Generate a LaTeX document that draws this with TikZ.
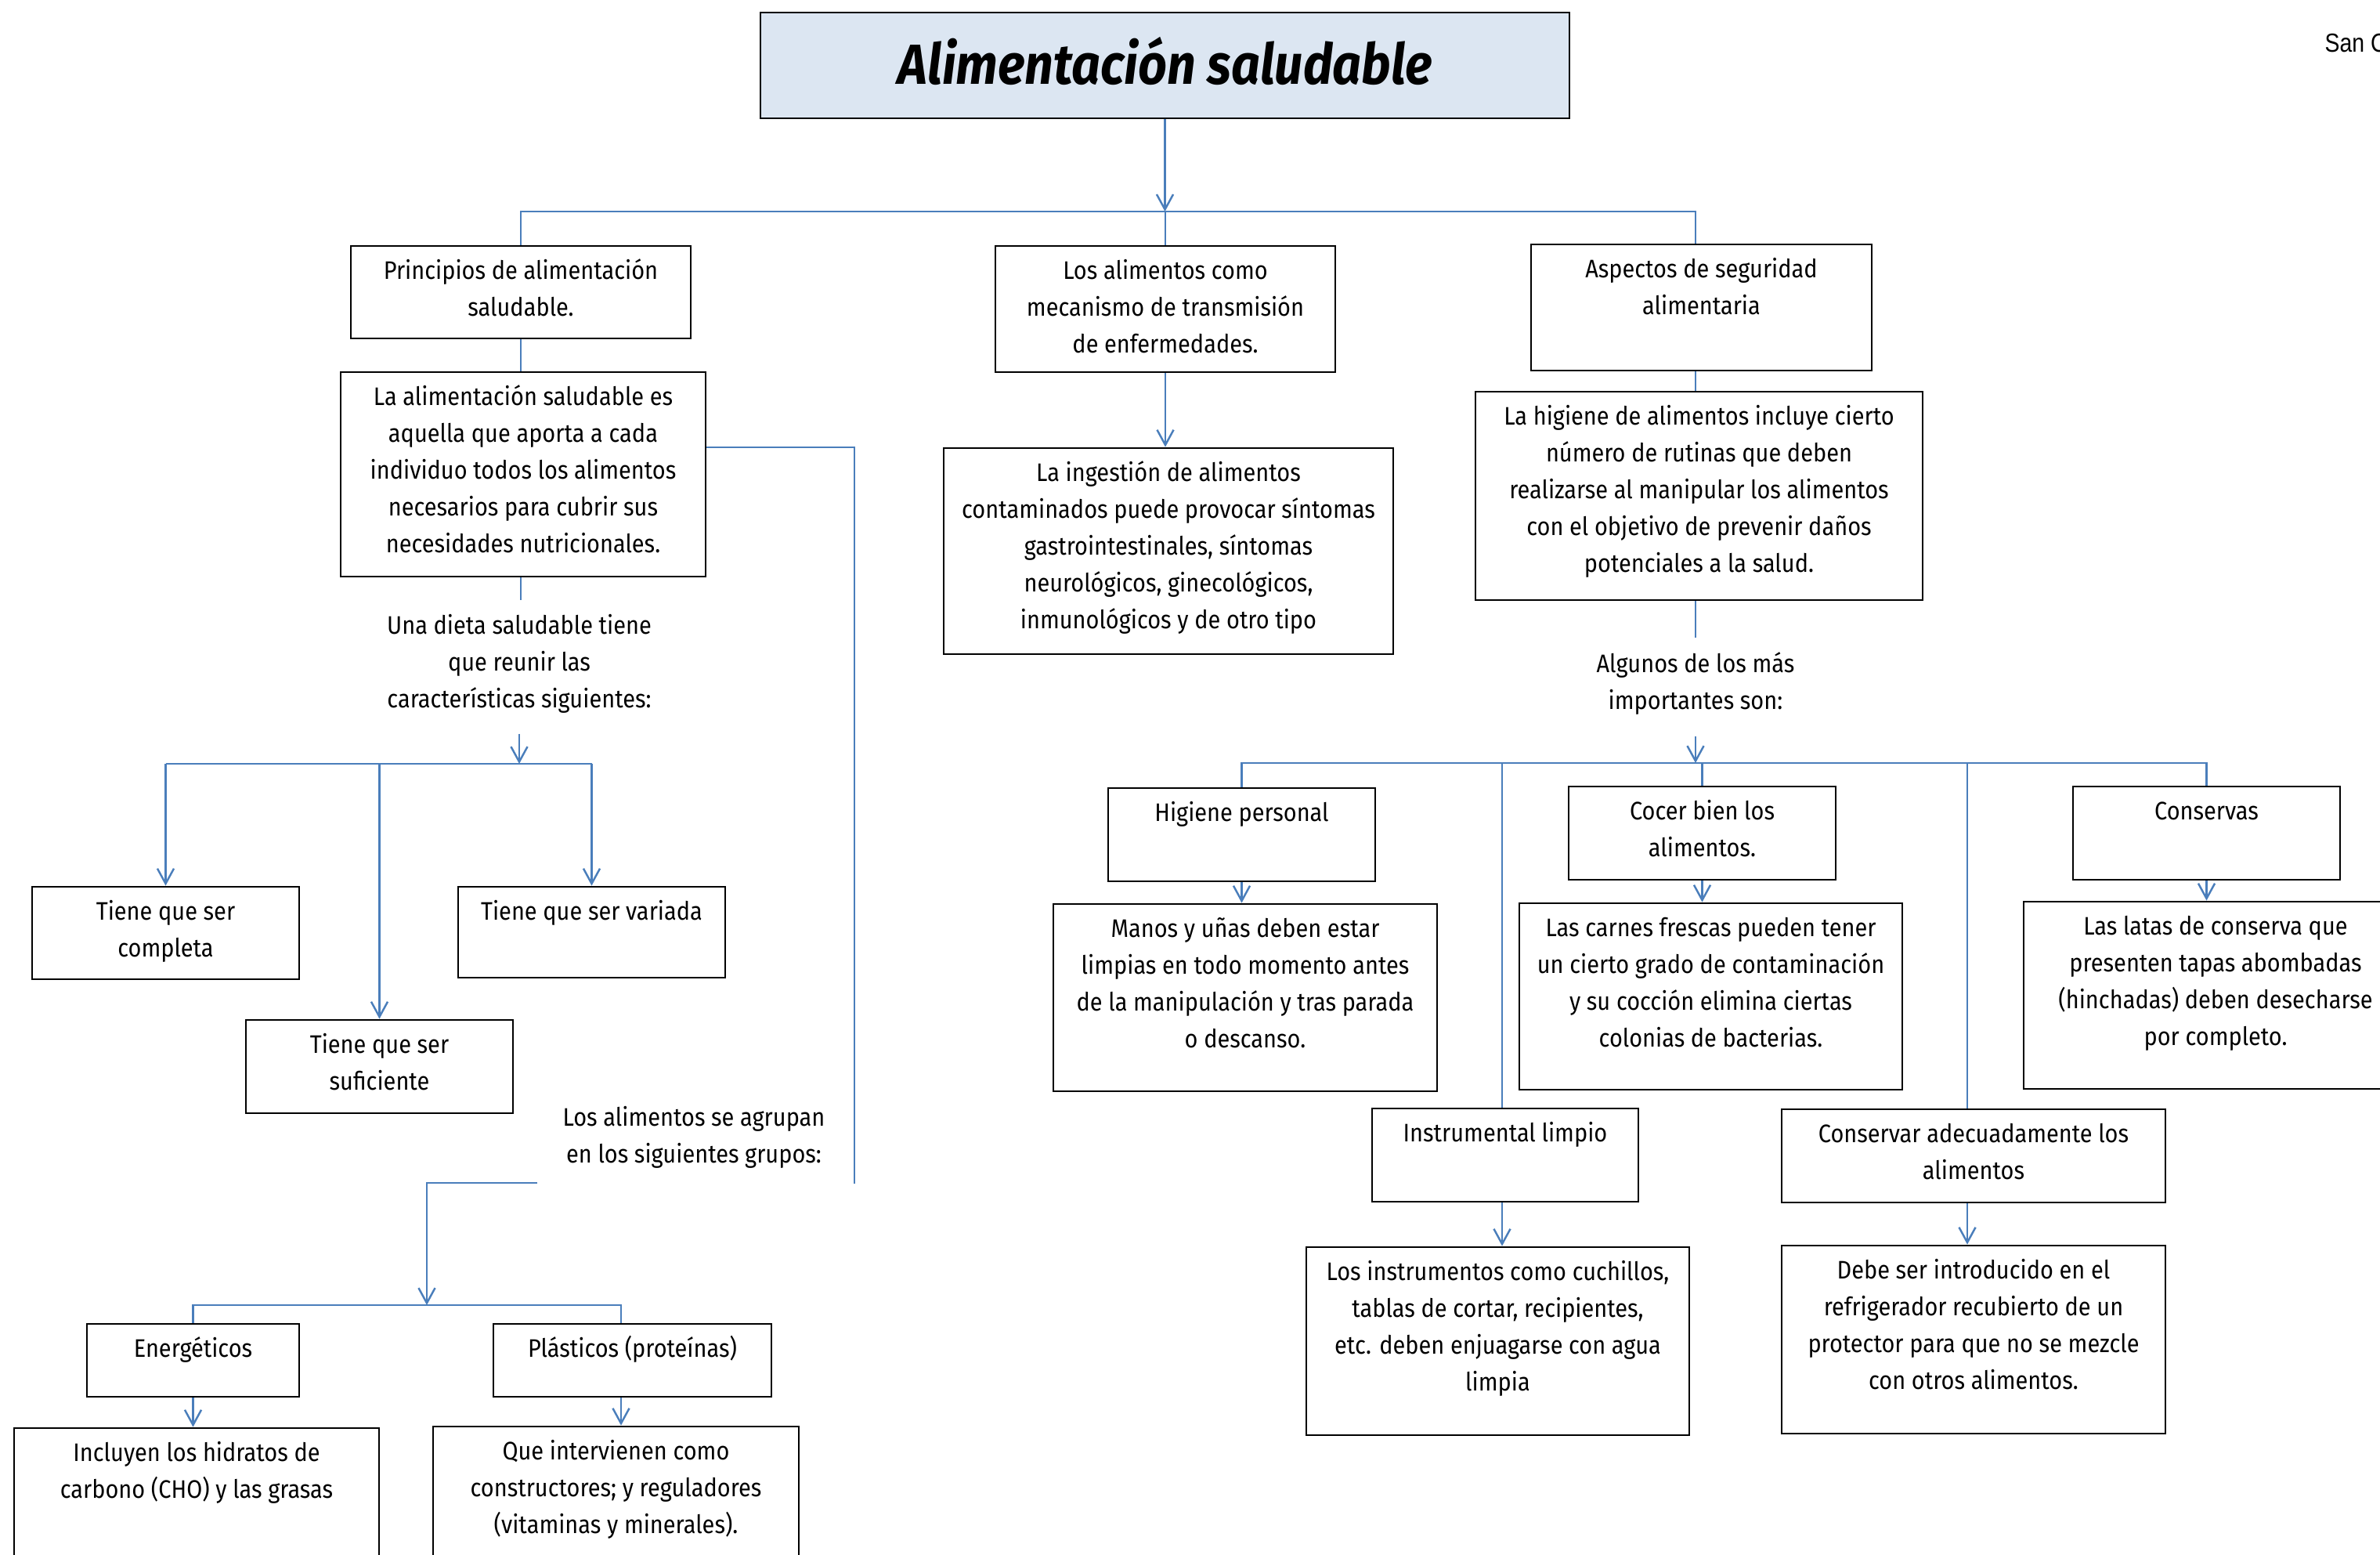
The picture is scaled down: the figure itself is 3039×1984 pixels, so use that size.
\documentclass[tikz,border=0pt]{standalone}
\usepackage{fontspec}
\setmainfont{Fira Sans}[FakeStretch=0.895]
\newfontfamily\sanfont{Liberation Sans}[FakeStretch=0.85]
\usetikzlibrary{arrows.meta,fit}
\definecolor{conn}{HTML}{4A7EBB}
\definecolor{titlefill}{HTML}{DCE6F2}
\tikzset{
  box/.style={draw=black, line width=0.8pt, inner sep=0pt},
  titlebox/.style={box, fill=titlefill},
  txt/.style={align=center, inner sep=0pt, font=\fontsize{9.2}{13.4}\selectfont},
  link/.style={draw=conn, line width=0.7pt},
  arr/.style={link, -{Straight Barb[length=5.5pt,width=6pt]}},
}
\newcommand\mybox[6]{%
  \node[box, fit={(#2,#3) (#4,#5)}] (#1) {};
  \node[txt, anchor=north] (#1-t) at ([yshift=-0.1cm]#1.north) {\strut #6};
}
\begin{document}
\begin{tikzpicture}[x=0.01cm, y=-0.01cm]
\useasboundingbox (0,0) rectangle (3039,1984);

% title
\node[titlebox, fit={(971,16) (2004,151)}] (title) {};
\node[inner sep=0pt, font=\fontsize{20.5}{24}\selectfont\bfseries\itshape] (title-t) at (1488,78) {Alimentación saludable};
\node[anchor=west, inner sep=0pt, font=\sanfont\fontsize{9.5}{11}\selectfont] (sanc) at (2968,55) {San C};

% left column
\mybox{p1}{448}{314}{882}{432}{Principios de alimentación\\saludable.}
\mybox{a1}{435}{475}{901}{736}{La alimentación saludable es\\aquella que aporta a cada\\individuo todos los alimentos\\necesarios para cubrir sus\\necesidades nutricionales.}
\node[txt, anchor=north] (dieta) at (663,776) {\strut Una dieta saludable tiene\\que reunir las\\características siguientes:};
\mybox{c1}{41}{1132}{382}{1250}{Tiene que ser\\completa}
\mybox{c3}{585}{1132}{926}{1248}{Tiene que ser variada}
\mybox{c2}{314}{1302}{655}{1421}{Tiene que ser\\suficiente}
\node[txt, anchor=north] (grupos) at (886,1404) {\strut Los alimentos se agrupan\\en los siguientes grupos:};
\mybox{e1}{111}{1690}{382}{1783}{Energéticos}
\mybox{e2}{630}{1690}{985}{1783}{Plásticos (proteínas)}
\mybox{i1}{18}{1823}{484}{2010}{Incluyen los hidratos de\\carbono (CHO) y las grasas}
\mybox{i2}{553}{1821}{1020}{2010}{Que intervienen como\\constructores; y reguladores\\(vitaminas y minerales).}

% middle column
\mybox{m1}{1271}{314}{1705}{475}{Los alimentos como\\mecanismo de transmisión\\de enfermedades.}
\mybox{m2}{1205}{572}{1779}{835}{La ingestión de alimentos\\contaminados puede provocar síntomas\\gastrointestinales, síntomas\\neurológicos, ginecológicos,\\inmunológicos y de otro tipo}

% right column
\mybox{p3}{1955}{312}{2390}{473}{Aspectos de seguridad\\alimentaria}
\mybox{h1}{1884}{500}{2455}{766}{La higiene de alimentos incluye cierto\\número de rutinas que deben\\realizarse al manipular los alimentos\\con el objetivo de prevenir daños\\potenciales a la salud.}
\node[txt, anchor=north] (alg) at (2165,825) {\strut Algunos de los más\\importantes son:};
\mybox{hp}{1415}{1006}{1756}{1125}{Higiene personal}
\mybox{mn}{1345}{1154}{1835}{1393}{Manos y uñas deben estar\\limpias en todo momento antes\\de la manipulación y tras parada\\o descanso.}
\mybox{cb}{2003}{1004}{2344}{1123}{Cocer bien los\\alimentos.}
\mybox{lc}{1940}{1153}{2429}{1391}{Las carnes frescas pueden tener\\un cierto grado de contaminación\\y su cocción elimina ciertas\\colonias de bacterias.}
\mybox{cv}{2647}{1004}{2988}{1123}{Conservas}
\mybox{ll}{2584}{1151}{3074}{1390}{Las latas de conserva que\\presenten tapas abombadas\\(hinchadas) deben desecharse\\por completo.}
\mybox{ins}{1752}{1415}{2092}{1534}{Instrumental limpio}
\mybox{li}{1668}{1592}{2157}{1832}{Los instrumentos como cuchillos,\\tablas de cortar, recipientes,\\etc. deben enjuagarse con agua\\limpia}
\mybox{cons}{2275}{1416}{2765}{1535}{Conservar adecuadamente los\\alimentos}
\mybox{db}{2275}{1590}{2765}{1830}{Debe ser introducido en el\\refrigerador recubierto de un\\protector para que no se mezcle\\con otros alimentos.}

% helper coordinates
\coordinate (b1) at (0,270);
\coordinate (d1) at (663,766);
\coordinate (b2) at (0,975);
\coordinate (g0) at (0,571);
\coordinate (g1) at (1091,1511);
\coordinate (g2) at (686,1510);
\coordinate (b3) at (545,1666);
\coordinate (x2) at (793,0);
\coordinate (x3) at (2165,0);
\coordinate (d2) at (2165,814);
\coordinate (b4) at (0,974);
\coordinate (x4) at (1918,0);
\coordinate (x5) at (2512,0);

% connectors: top
\draw[arr] (title.south) -- (title.south |- b1);
\draw[link] (p1.north) -- (p1.north |- b1) -- (x3 |- b1) -- (x3 |- p3.north);
\draw[link] (m1.north) -- (m1.north |- b1);

% left
\draw[link] (p1.south) -- (p1.south |- a1.north);
\draw[link] (p1.south |- a1.south) -- (p1.south |- d1);
\draw[link] (a1.east |- g0) -| (g1);
\draw[arr] ([yshift=-0.25cm]dieta.south) -- (dieta.south |- b2);
\draw[link] (c1.north |- b2) -- (c3.north |- b2);
\draw[arr] (c1.north |- b2) -- (c1.north);
\draw[arr] (c2.north |- b2) -- (c2.north);
\draw[arr] (c3.north |- b2) -- (c3.north);
\draw[arr] (g2) -| (b3);
\draw[link] (e1.north) -- (e1.north |- b3) -- (x2 |- b3) -- (x2 |- e2.north);
\draw[arr] (e1.south) -- (e1.south |- i1.north);
\draw[arr] (x2 |- e2.south) -- (x2 |- i2.north);

% middle
\draw[arr] (m1.south) -- (m1.south |- m2.north);

% right
\draw[link] (x3 |- p3.south) -- (x3 |- h1.north);
\draw[link] (x3 |- h1.south) -- (d2);
\draw[arr] ([yshift=-0.27cm]alg.south) -- (alg.south |- b4);
\draw[link] (hp.north) -- (hp.north |- b4) -- (cv.north |- b4) -- (cv.north);
\draw[link] (cb.north) -- (cb.north |- b4);
\draw[link] (x4 |- b4) -- (x4 |- ins.north);
\draw[link] (x5 |- b4) -- (x5 |- cons.north);
\draw[arr] (hp.south) -- (hp.south |- mn.north);
\draw[arr] (cb.south) -- (cb.south |- lc.north);
\draw[arr] (cv.south) -- (cv.south |- ll.north);
\draw[arr] (x4 |- ins.south) -- (x4 |- li.north);
\draw[arr] (x5 |- cons.south) -- (x5 |- db.north);
\end{tikzpicture}
\end{document}
